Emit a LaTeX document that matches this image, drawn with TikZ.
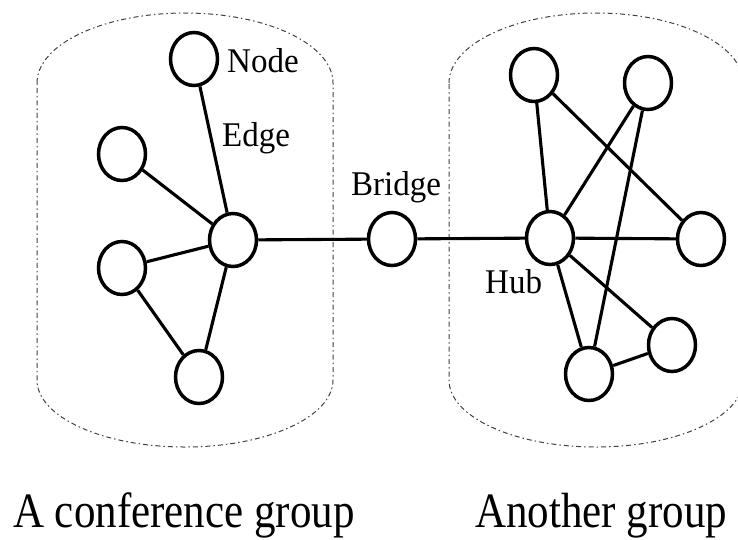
\documentclass[tikz,border=0pt]{standalone}
\usepackage{fontspec}
\setmainfont{Liberation Serif}
\usetikzlibrary{shapes.geometric}
\begin{document}
\begin{tikzpicture}[x=1pt,y=-1pt,
  vert/.style={draw=black,line width=3.5pt,ellipse,minimum width=47pt,minimum height=53pt,inner sep=0pt,fill=white},
  link/.style={draw=black,line width=3.1pt},
  grp/.style={draw=black!75,line width=1pt,dash pattern=on 5pt off 3pt on 1.5pt off 3pt},
  tag/.style={font=\fontsize{33}{33}\selectfont,inner sep=0pt,anchor=base west,yscale=1.05},
  caption/.style={font=\fontsize{43}{43}\selectfont,inner sep=0pt,anchor=base west,yscale=1.15}]
\useasboundingbox (0,0) rectangle (738,539);
\clip (0,0) rectangle (738,539);

% group outlines: straight sides with half-elliptic top and bottom
\draw[grp] (37,83) arc[start angle=180,end angle=360,x radius=148,y radius=70]
  -- (333,380) arc[start angle=0,end angle=180,x radius=148,y radius=67] -- cycle;
\draw[grp] (449,83) arc[start angle=180,end angle=360,x radius=147,y radius=70]
  -- (743,380) arc[start angle=0,end angle=180,x radius=147,y radius=67] -- cycle;

% left group
\node[vert] (ltop) at (194,59) {};
\node[vert] (lup)  at (122,154) {};
\node[vert] (lhub) at (233,240) {};
\node[vert] (llow) at (122,268) {};
\node[vert] (lbot) at (199,377) {};
% bridge
\node[vert] (bridge) at (392,239) {};
% right group
\node[vert] (rtl)  at (534,75) {};
\node[vert] (rtr)  at (648,83) {};
\node[vert] (rhub) at (550,238) {};
\node[vert] (rr)   at (701,239) {};
\node[vert] (rlr)  at (672,345) {};
\node[vert] (rbot) at (589,374) {};

% edges
\draw[link] (ltop) -- (lhub);
\draw[link] (lup) -- (lhub);
\draw[link] (llow) -- (lhub);
\draw[link] (llow) -- (lbot);
\draw[link] (lbot) -- (lhub);
\draw[link] (lhub) -- (bridge);
\draw[link] (bridge) -- (rhub);
\draw[link] (rtl) -- (rhub);
\draw[link] (rtl) -- (rr);
\draw[link] (rtr) -- (rhub);
\draw[link] (rtr) -- (rbot);
\draw[link] (rhub) -- (rr);
\draw[link] (rhub) -- (rbot);
\draw[link] (rhub) -- (rlr);
\draw[link] (rbot) -- (rlr);

% labels
\node[tag] (tnode) at (227,72) {Node};
\node[tag] (tedge) at (222,146) {Edge};
\node[tag] (tbridge) at (351,195) {Bridge};
\node[tag] (thub) at (485,293) {Hub};
\node[caption] (cleft) at (13,527) {A conference group};
\node[caption] (cright) at (475,527) {Another group};
\end{tikzpicture}
\end{document}
